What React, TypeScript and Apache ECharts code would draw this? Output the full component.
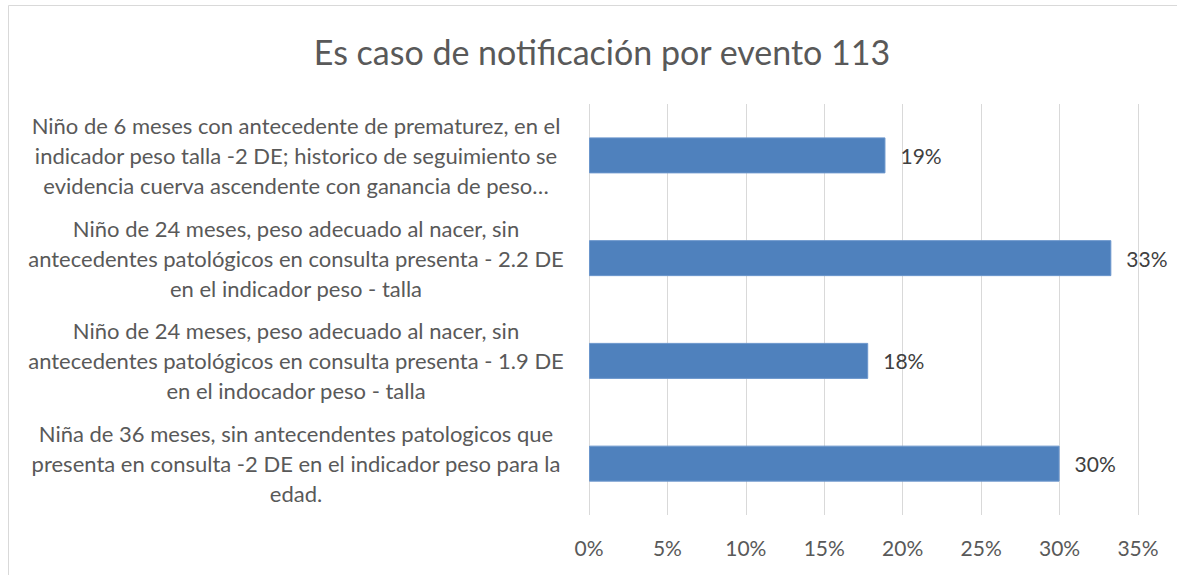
import React, { useEffect, useRef } from "react";
import * as echarts from "echarts";

const title = "Es caso de notificación por evento 113";
const categories = [
  "Niño de 6 meses con antecedente de prematurez, en el\nindicador peso talla -2 DE; historico de seguimiento se\nevidencia cuerva ascendente con ganancia de peso…",
  "Niño de 24 meses, peso adecuado al nacer, sin\nantecedentes patológicos en consulta presenta - 2.2 DE\nen el indicador peso - talla",
  "Niño de 24 meses, peso adecuado al nacer, sin\nantecedentes patológicos en consulta presenta - 1.9 DE\nen el indocador peso - talla",
  "Niña de 36 meses, sin antecendentes patologicos que\npresenta en consulta -2 DE en el indicador peso para la\nedad.",
];
const values = [18.9, 33.3, 17.8, 30.0];
const axisMin = 0;
const axisMax = 35;
const axisStep = 5;

const FONT = "Lato, 'Open Sans', sans-serif";

export default function App() {
  const ref = useRef<HTMLDivElement>(null);
  useEffect(() => {
    if (!ref.current) return;
    const chart = echarts.init(ref.current, null, { renderer: "svg" });
    chart.setOption({
      animation: false,
      backgroundColor: "#ffffff",
      textStyle: { fontFamily: FONT },
      title: {
        text: title,
        left: 597,
        textAlign: "center",
        top: 29,
        textStyle: { fontFamily: FONT, fontSize: 34, fontWeight: "normal", color: "#595959" },
      },
      graphic: [
        {
          type: "rect",
          shape: { x: 8.5, y: 5.5, width: 1200, height: 600 },
          style: { fill: "none", stroke: "#d9d9d9", lineWidth: 1 },
          silent: true,
        },
      ],
      grid: { left: 589, right: 39, top: 104, bottom: 60, containLabel: false },
      xAxis: {
        type: "value",
        min: axisMin,
        max: axisMax,
        interval: axisStep,
        axisLine: { show: false },
        axisTick: { show: false },
        splitLine: { lineStyle: { color: "#d9d9d9", width: 1 } },
        axisLabel: {
          formatter: "{value}%",
          color: "#595959",
          fontSize: 21,
          fontFamily: FONT,
          margin: 22,
        },
      },
      yAxis: {
        type: "category",
        data: categories,
        inverse: true,
        axisLine: { show: false },
        axisTick: { show: false },
        axisLabel: {
          align: "center",
          margin: 293,
          color: "#595959",
          fontSize: 22,
          lineHeight: 30,
          fontFamily: FONT,
        },
      },
      series: [
        {
          type: "bar",
          data: values,
          barWidth: 36,
          itemStyle: { color: "#4f81bd", borderColor: "#6b96cc", borderWidth: 1 },
          label: {
            show: true,
            position: "right",
            distance: 15,
            formatter: (p: any) => Math.round(p.value) + "%",
            color: "#404040",
            fontSize: 21,
            fontFamily: FONT,
          },
        },
      ],
    });
    return () => chart.dispose();
  }, []);
  return (
    <div
      ref={ref}
      style={{ position: "absolute", left: 0, top: 0, width: 1177, height: 575 }}
    />
  );
}
